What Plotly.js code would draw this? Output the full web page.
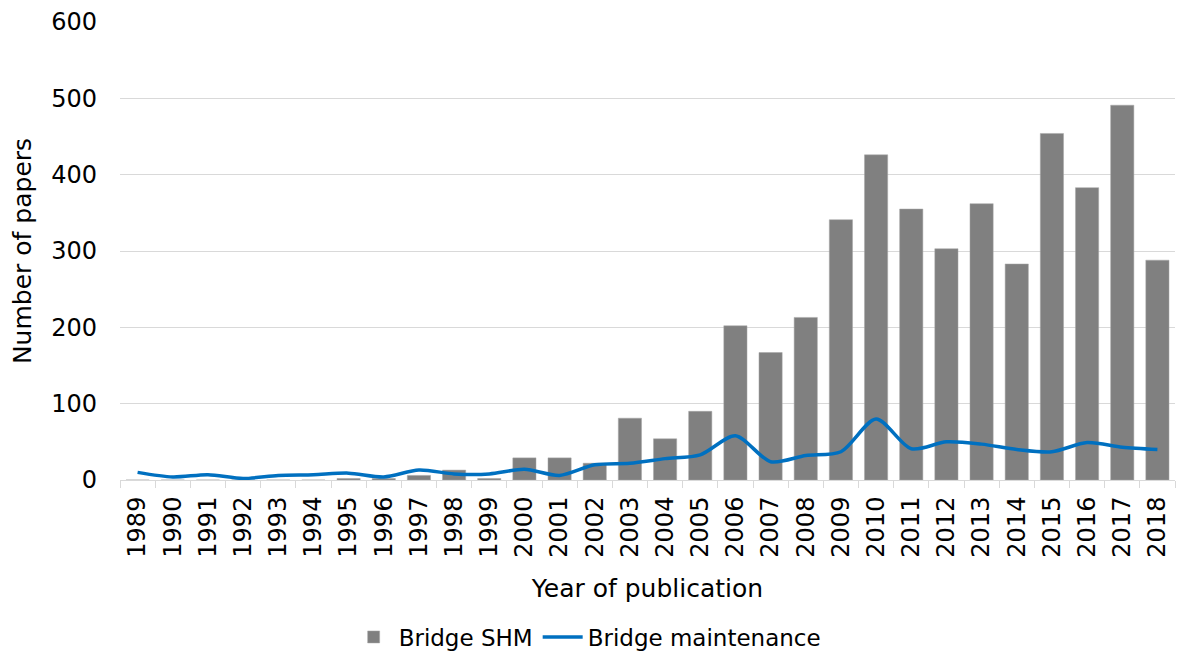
<!DOCTYPE html>
<html>
<head>
<meta charset="utf-8">
<script src="https://cdn.plot.ly/plotly-3.0.1.min.js"></script>
<style>html,body{margin:0;padding:0;background:#fff;}#chart{width:1179px;height:654px;}</style>
</head>
<body>
<div id="chart"></div>
<script>
const years = ['1989','1990','1991','1992','1993','1994','1995','1996','1997','1998','1999','2000','2001','2002','2003','2004','2005','2006','2007','2008','2009','2010','2011','2012','2013','2014','2015','2016','2017','2018'];
const shmValues = [0,0,0,0,0,0,2,2,6,13,2,29,29,22,81,54,90,202,167,213,341,426,355,303,362,283,454,383,491,288];
const maintenanceValues = [10,4,7,2,6,7,9,4,13,8,8,14,6,20,22,28,33,58,24,32,37,80,41,50,47,40,37,49,43,40];
const yTicks = [0,100,200,300,400,500,600];

const font = 'DejaVu Sans, Verdana, sans-serif';
const fs = 24;
const traces = [
  {type:'bar', name:'Bridge SHM', x:years, y:shmValues,
   marker:{color:'#808080', line:{color:'#a6a6a6', width:0.5}}},
  {type:'scatter', mode:'lines', name:'Bridge maintenance', x:years, y:maintenanceValues,
   line:{color:'#0070C0', width:3.5, shape:'spline', smoothing:0.8}}
];
const layout = {
  width:1179, height:654,
  margin:{l:120, r:4, t:22, b:174},
  paper_bgcolor:'#fff', plot_bgcolor:'#fff',
  font:{family:font, size:fs, color:'#000'},
  bargap:0.34,
  showlegend:true,
  legend:{orientation:'h', xref:'container', yref:'container', x:0.498, xanchor:'center', y:0.026, yanchor:'middle',
          font:{family:font, size:23}, traceorder:'normal', itemwidth:40},
  xaxis:{type:'category', tickson:'boundaries', ticks:'outside', ticklen:7, tickcolor:'#d9d9d9',
         showline:true, linecolor:'#d9d9d9', linewidth:1, tickangle:-90, ticklabelstandoff:6,
         tickfont:{family:font, size:fs}, showgrid:false,
         title:{text:'Year of publication', font:{family:font, size:25}, standoff:22}},
  yaxis:{range:[0,600], tickvals:yTicks, ticktext:yTicks.map(String), showgrid:true, gridcolor:'#d9d9d9', gridwidth:1,
         zeroline:false, showline:false, ticks:'', ticklabelstandoff:22,
         tickfont:{family:font, size:fs},
         title:{text:'Number of papers', font:{family:font, size:25}, standoff:12}}
};
Plotly.newPlot('chart', traces, layout, {displayModeBar:false, staticPlot:true});
</script>
</body>
</html>
